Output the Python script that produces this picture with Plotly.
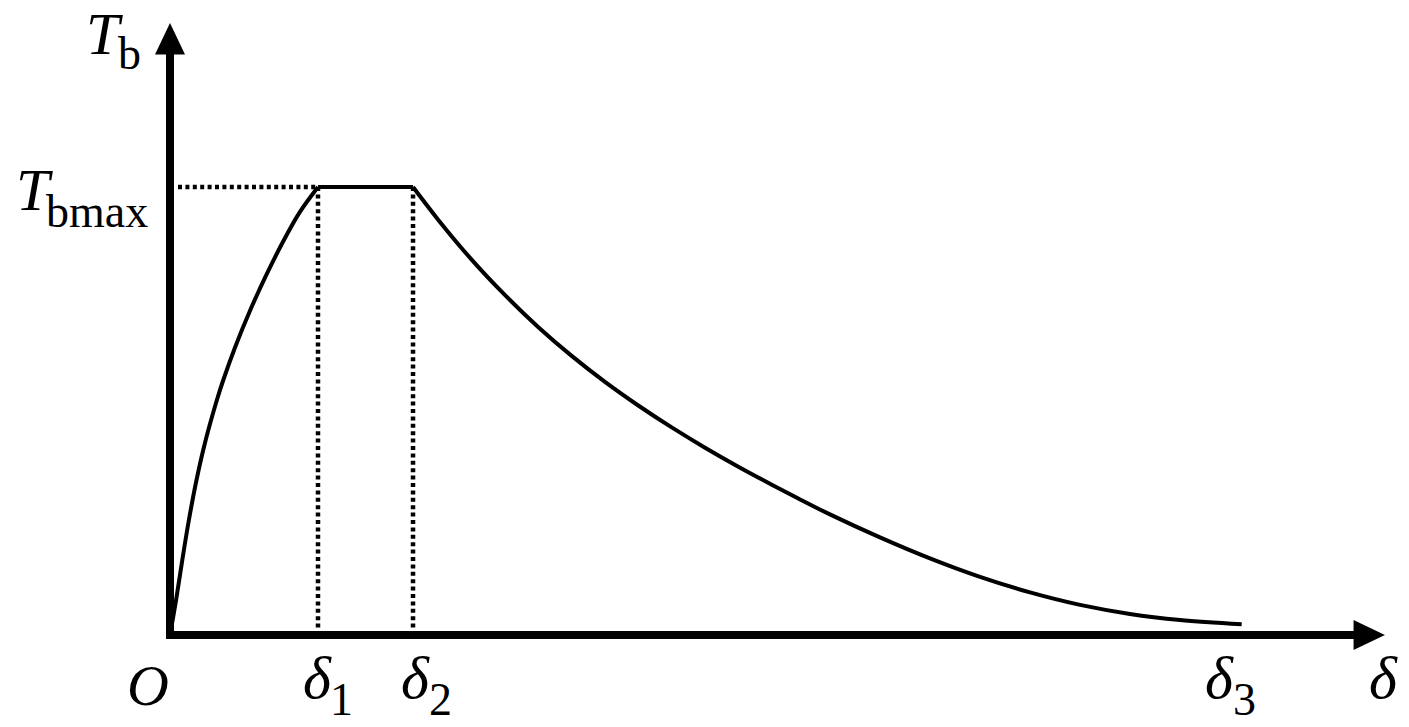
import plotly.graph_objects as go

# ---- data (normalised units: delta_1 = 1, T_bmax = 1) ----
delta_1 = 1.0
delta_2 = 1.642
delta_3 = 7.25
T_bmax = 1.0

rise_x = [0.0, 0.0412, 0.0831, 0.1277, 0.1791, 0.2412, 0.3169, 0.3601, 0.4412,
          0.5426, 0.6453, 0.7581, 0.8716, 1.0]
rise_y = [0.0, 0.0781, 0.1674, 0.2567, 0.3460, 0.4353, 0.5246, 0.5692, 0.6435,
          0.7254, 0.7998, 0.8743, 0.9413, 1.0]

decay_x = [1.642, 1.813, 2.038, 2.264, 2.489, 2.714, 2.939, 3.164, 3.390, 3.615,
           3.840, 4.066, 4.245, 4.459, 4.797, 5.135, 5.473, 5.811, 6.149, 6.486,
           6.824, 7.241]
decay_y = [1.0, 0.9266, 0.8379, 0.7585, 0.6871, 0.6230, 0.5650, 0.5123, 0.4634,
           0.4181, 0.3757, 0.3355, 0.3047, 0.2692, 0.2179, 0.1710, 0.1297, 0.0951,
           0.0672, 0.0471, 0.0337, 0.0241]

# axis extents (data units)
x_axis_end = 8.007
x_arrow_tip = 8.209
y_axis_end = 1.301
y_arrow_tip = 1.366

# ---- layout geometry ----
W, H = 1409, 727
OX, OY = 170, 635          # origin in figure pixels
SX, SY = 148.0, 448.0      # pixels per unit
x_range = [-OX / SX, (W - OX) / SX]
y_range = [-(H - OY) / SY, OY / SY]

FONT = "Liberation Serif"
BLACK = "#000000"

fig = go.Figure()

# axes (L shape)
fig.add_trace(go.Scatter(x=[0, 0, x_axis_end], y=[y_axis_end, 0, 0], mode="lines",
                         line=dict(color=BLACK, width=8), hoverinfo="skip"))
# arrowheads
hw_x = 15 / SX
hw_y = 15 / SY
fig.add_trace(go.Scatter(x=[-hw_x, 0, hw_x, -hw_x],
                         y=[y_axis_end - 0.005, y_arrow_tip, y_axis_end - 0.005, y_axis_end - 0.005],
                         mode="lines", fill="toself", fillcolor=BLACK,
                         line=dict(color=BLACK, width=0), hoverinfo="skip"))
fig.add_trace(go.Scatter(x=[x_axis_end - 0.01, x_arrow_tip, x_axis_end - 0.01, x_axis_end - 0.01],
                         y=[-hw_y, 0, hw_y, -hw_y],
                         mode="lines", fill="toself", fillcolor=BLACK,
                         line=dict(color=BLACK, width=0), hoverinfo="skip"))

# dotted guide lines
dot = dict(color=BLACK, width=4.5, dash="4px,3.4px")
fig.add_trace(go.Scatter(x=[8 / SX, delta_1], y=[T_bmax, T_bmax], mode="lines", line=dot, hoverinfo="skip"))
fig.add_trace(go.Scatter(x=[delta_1, delta_1], y=[T_bmax, 6 / SY], mode="lines", line=dot, hoverinfo="skip"))
fig.add_trace(go.Scatter(x=[delta_2, delta_2], y=[T_bmax, 6 / SY], mode="lines", line=dot, hoverinfo="skip"))

# curve
cl = dict(color=BLACK, width=4)
fig.add_trace(go.Scatter(x=rise_x, y=rise_y, mode="lines",
                         line=dict(cl, shape="spline", smoothing=1.0), hoverinfo="skip"))
fig.add_trace(go.Scatter(x=[delta_1, delta_2], y=[T_bmax, T_bmax], mode="lines", line=cl, hoverinfo="skip"))
fig.add_trace(go.Scatter(x=decay_x, y=decay_y, mode="lines",
                         line=dict(cl, shape="spline", smoothing=1.0), hoverinfo="skip"))

# ---- labels ----
BIG, SMALL = 60, 46


def label(text, cx_px, base_px, size, italic):
    cy = base_px - 0.3375 * size
    fig.add_annotation(x=(cx_px - OX) / SX, y=(OY - cy) / SY, xref="x", yref="y",
                       text=text, showarrow=False, xanchor="center", yanchor="middle",
                       borderpad=0, borderwidth=0,
                       font=dict(family=FONT, size=size, color=BLACK,
                                 style="italic" if italic else "normal"))


label("T", 104, 54, BIG, True)
label("b", 129, 69, SMALL, False)
label("T", 34, 210, BIG, True)
label("bmax", 97, 227, SMALL, False)
label("O", 148, 705, 58, True)
label("δ", 317, 698, BIG, True)
label("1", 341, 715, SMALL, False)
label("δ", 415, 698, BIG, True)
label("2", 440, 715, SMALL, False)
label("δ", 1219, 698, BIG, True)
label("3", 1244, 715, SMALL, False)
label("δ", 1383, 698, BIG, True)

fig.update_layout(
    width=W, height=H, margin=dict(l=0, r=0, t=0, b=0),
    paper_bgcolor="white", plot_bgcolor="white", showlegend=False,
    xaxis=dict(range=x_range, visible=False, fixedrange=True),
    yaxis=dict(range=y_range, visible=False, fixedrange=True),
)

fig.write_html("out.html", config={"displayModeBar": False, "staticPlot": True},
               post_script="document.body.style.margin='0';document.body.style.overflow='hidden';")
